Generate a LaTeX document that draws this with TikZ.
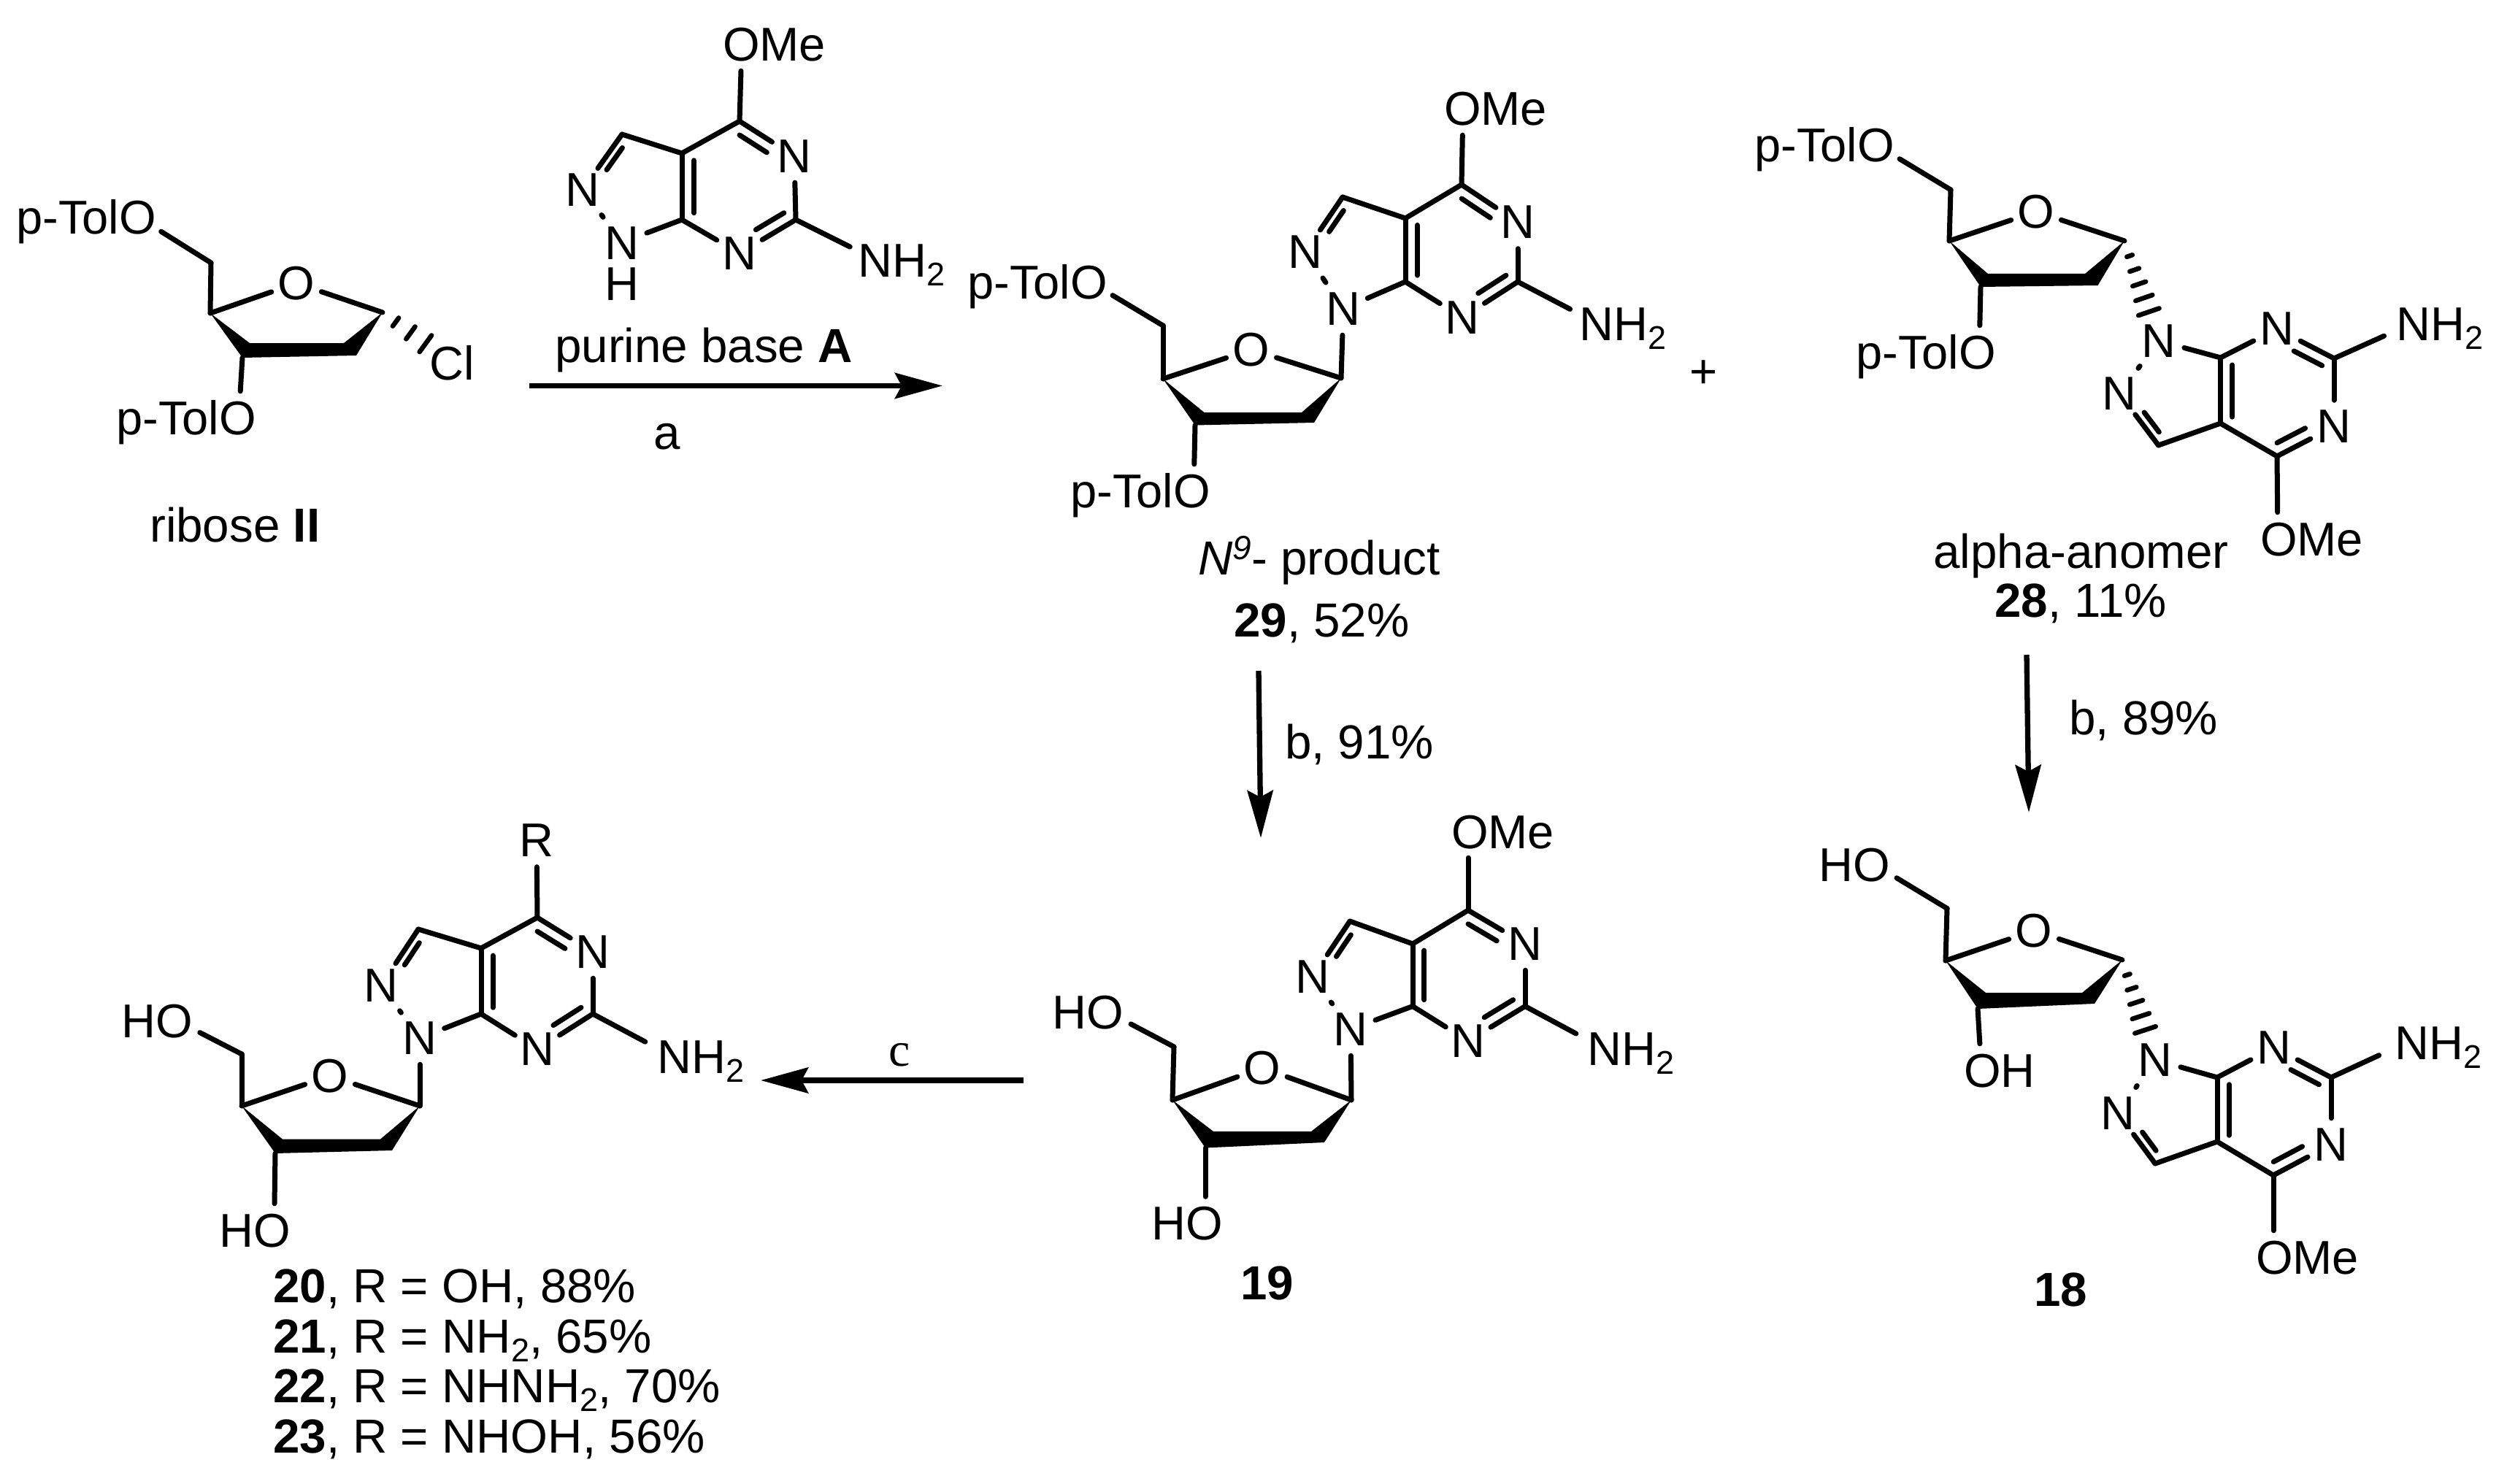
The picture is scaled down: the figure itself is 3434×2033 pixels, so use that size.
\documentclass[tikz,border=0pt]{standalone}
\usepackage{fontspec}
\setmainfont{Liberation Sans}
\newfontfamily\serifc{Liberation Serif}
\usetikzlibrary{calc,arrows.meta}
\newcommand{\subtwo}{\raisebox{-12pt}{\fontsize{45}{47}\selectfont 2}}
\tikzset{
  x=1pt,y=-1pt,
  bnd/.style={line width=7pt,line cap=round,black},
  hsh/.style={line width=6.5pt,line cap=round,black},
  rxn/.style={line width=7.3pt,black,-{Stealth[length=65pt,width=35pt,inset=9pt]}},
  molfont/.style={font=\fontsize{65}{70}\selectfont},
  atomlab/.style={circle,inner sep=0pt,minimum size=72pt,molfont},
  gapn/.style={circle,inner sep=0pt,minimum size=72pt},
  gapw/.style={circle,inner sep=0pt,minimum size=84pt},
  txt/.style={inner sep=0pt,molfont},
  capn/.style={inner sep=0pt,font=\fontsize{65.5}{70}\selectfont},
}
% purine-like bicycle: expects coordinates/nodes  P-C4 P-N3 P-C2 P-N1 P-C7a P-C3a P-CH P-N2 P-N9 P-X4 P-X2
\newcommand{\purinebonds}[1]{
  \coordinate (#1-c6) at ($(#1-C4)!.5!(#1-N1)$);
  \coordinate (#1-m5) at ($(#1-C3a)!.5!(#1-C7a)$);
  \coordinate (#1-c5) at ($(#1-m5)!.59!(#1-N2)$);
  \draw[bnd] (#1-C4) -- (#1-X4);
  \draw[bnd] (#1-C4) -- (#1-N3);
  \draw[bnd] (#1-N3) -- (#1-C2);
  \draw[bnd] (#1-C2) -- (#1-N1);
  \draw[bnd] (#1-C2) -- (#1-X2);
  \draw[bnd] (#1-N1) -- (#1-C7a);
  \draw[bnd] (#1-C7a) -- (#1-C3a);
  \draw[bnd] (#1-C3a) -- (#1-C4);
  \draw[bnd] (#1-C3a) -- (#1-CH);
  \draw[bnd] (#1-CH) -- (#1-N2);
  \draw[bnd,shorten <=7pt,shorten >=7pt] (#1-N2) -- (#1-N9);
  \draw[bnd] (#1-N9) -- (#1-C7a);
  \draw[bnd] ($(#1-C3a)!.21!(#1-c6)$) -- ($(#1-C7a)!.21!(#1-c6)$);
  \draw[bnd,shorten >=26pt] ($(#1-C4)!.21!(#1-c6)$) -- ($(#1-N3)!.21!(#1-c6)$);
  \draw[bnd,shorten >=26pt] ($(#1-C2)!.21!(#1-c6)$) -- ($(#1-N1)!.21!(#1-c6)$);
  \draw[bnd,shorten >=33pt] ($(#1-CH)!.25!(#1-c5)$) -- ($(#1-N2)!.25!(#1-c5)$);
}
% sugar ring: expects P-C5 P-C4p P-O P-C1 P-tl P-tr P-br P-bl P-O5 P-O3
\newcommand{\sugarbonds}[1]{
  \draw[bnd] (#1-O5) -- (#1-C5);
  \draw[bnd] (#1-C5) -- (#1-C4p);
  \draw[bnd] (#1-C4p) -- (#1-O);
  \draw[bnd] (#1-O) -- (#1-C1);
  \fill[black] (#1-C4p) -- (#1-tl) -- (#1-tr) -- (#1-C1) -- (#1-br) -- (#1-bl) -- cycle;
  \draw[bnd] (#1-bl) -- (#1-O3);
}
% hashed bond a->b: fractions t0..t1, n stripes, half widths w0..w1
\newcommand{\hashbond}[7]{
  \foreach \i in {0,...,\numexpr#5-1\relax}{
    \pgfmathsetmacro{\tt}{#3+(#4-#3)*\i/(#5-1)}
    \pgfmathsetmacro{\ww}{#6+(#7-#6)*\i/(#5-1)}
    \coordinate (hashc) at ($(#1)!\tt!(#2)$);
    \draw[hsh] ($(hashc)!\ww pt!90:(#2)$) -- ($(hashc)!\ww pt!-90:(#2)$);
  }
}
\begin{document}
\begin{tikzpicture}
\useasboundingbox (0,0) rectangle (3434,2033);
\fill[white] (0,0) rectangle (3434,2033);

%% ribose II
\coordinate (r-C5) at (289,360);
\coordinate (r-C4p) at (288,429);
\node[atomlab] (r-O) at (406,388) {O};
\coordinate (r-C1) at (524,428);
\coordinate (r-tl) at (342,470);
\coordinate (r-tr) at (471,470);
\coordinate (r-br) at (488,487);
\coordinate (r-bl) at (332,490);
\node[gapn] (r-O5) at (190,298) {};
\node[gapn] (r-O3) at (327,572) {};
\node[txt,anchor=base east] (r-t5) at (214,321) {p-TolO};
\node[txt,anchor=base east] (r-t3) at (351,595) {p-TolO};
\node[txt] (r-Cl) at (619,497) {Cl};
\sugarbonds{r}
\hashbond{r-C1}{r-Cl}{.19}{.62}{3}{7}{14}
\node[capn,anchor=base west] (r-cap) at (205,742) {ribose \textbf{II}};

%% base A
\coordinate (a-C4) at (1013,166);
\node[atomlab] (a-N3) at (1088,214) {N};
\coordinate (a-C2) at (1090,301);
\node[atomlab] (a-N1) at (1013,347) {N};
\coordinate (a-C7a) at (934,301);
\coordinate (a-C3a) at (934,210);
\coordinate (a-CH) at (852,184);
\node[atomlab] (a-N2) at (798,260) {N};
\node[gapn] (a-N9) at (852,332) {};
\node[inner sep=0pt,align=center,anchor=base,font=\fontsize{65}{56}\selectfont] (a-N9t) at (852,411) {N\\H};
\node[gapn] (a-X4) at (1016,61) {};
\node[gapw] (a-X2) at (1202,357) {};
\node[txt,anchor=base west] (a-t4) at (990,84) {OMe};
\node[txt,anchor=base west] (a-t2) at (1175,380) {NH\subtwo};
\purinebonds{a}
\node[capn,anchor=base west] (a-cap) at (760,496) {purine base \textbf{A}};
\node[capn,anchor=base] (a-lab) at (914,615) {a};

%% arrow a
\coordinate (ar1s) at (725,528.5);
\coordinate (ar1e) at (1291,528.5);
\draw[rxn] (ar1s) -- (ar1e);

%% 29
\coordinate (b-C4) at (2002,253);
\node[atomlab] (b-N3) at (2079,304.5) {N};
\coordinate (b-C2) at (2079,386);
\node[atomlab] (b-N1) at (2003,435) {N};
\coordinate (b-C7a) at (1925,386);
\coordinate (b-C3a) at (1925,299);
\coordinate (b-CH) at (1839,270);
\node[atomlab] (b-N2) at (1788,345) {N};
\node[atomlab] (b-N9) at (1840,423) {N};
\node[gapn] (b-X4) at (2004,149) {};
\node[gapw] (b-X2) at (2188,443) {};
\node[txt,anchor=base west] (b-t4) at (1978,172) {OMe};
\node[txt,anchor=base west] (b-t2) at (2163,466) {NH\subtwo};
\purinebonds{b}
\coordinate (b-C5) at (1593,446);
\coordinate (b-C4p) at (1593,519);
\node[atomlab] (b-O) at (1714,479) {O};
\coordinate (b-C1) at (1837,518);
\coordinate (b-tl) at (1649.5,565);
\coordinate (b-tr) at (1783,565);
\coordinate (b-br) at (1800,579);
\coordinate (b-bl) at (1637,582.5);
\node[gapn] (b-O5) at (1493,386) {};
\node[gapn] (b-O3) at (1635,672) {};
\node[txt,anchor=base east] (b-t5) at (1517,409) {p-TolO};
\node[txt,anchor=base east] (b-t3) at (1658,695) {p-TolO};
\sugarbonds{b}
\draw[bnd] (b-C1) -- (b-N9);
\node[capn,anchor=base west] (b-cap) at (1641,787) {\textit{N}\raisebox{21pt}{\fontsize{46}{48}\selectfont\textit{9}}- product};
\node[capn,anchor=base west] (b-cap2) at (1690,872) {\textbf{29}, 52\%};
\node[capn] (plus) at (2334,513) {+};

%% 28
\coordinate (c-C4) at (3119,625);
\node[atomlab] (c-N3) at (3197,584.5) {N};
\coordinate (c-C2) at (3197,491);
\node[atomlab] (c-N1) at (3119,450.6) {N};
\coordinate (c-C7a) at (3041.5,490);
\coordinate (c-C3a) at (3041.5,580);
\coordinate (c-CH) at (2956.5,610);
\node[atomlab] (c-N2) at (2903,539) {N};
\node[atomlab] (c-N9) at (2957,467) {N};
\node[gapn] (c-X4) at (3120,738) {};
\node[gapw] (c-X2) at (3304,443) {};
\node[txt,anchor=base west] (c-t4) at (3096,761) {OMe};
\node[txt,anchor=base west] (c-t2) at (3282,466) {NH\subtwo};
\purinebonds{c}
\coordinate (c-C5) at (2672,260);
\coordinate (c-C4p) at (2670,330);
\node[atomlab] (c-O) at (2789,290) {O};
\coordinate (c-C1) at (2910,330);
\coordinate (c-tl) at (2723,375);
\coordinate (c-tr) at (2856,375);
\coordinate (c-br) at (2873.5,391);
\coordinate (c-bl) at (2713,393);
\node[gapn] (c-O5) at (2571,199) {};
\node[gapn] (c-O3) at (2711,482) {};
\node[txt,anchor=base east] (c-t5) at (2595,222) {p-TolO};
\node[txt,anchor=base east] (c-t3) at (2734,505) {p-TolO};
\sugarbonds{c}
\hashbond{c-C1}{c-N9}{.15}{.71}{5}{4}{15}
\node[capn,anchor=base west] (c-cap) at (2648,778) {alpha-anomer};
\node[capn,anchor=base west] (c-cap2) at (2732,845) {\textbf{28}, 11\%};

%% arrow b (left)
\coordinate (ar2s) at (1724,919);
\coordinate (ar2e) at (1727,1148);
\draw[rxn] (ar2s) -- (ar2e);
\node[capn,anchor=base west] (ar2l) at (1760,1039) {b, 91\%};

%% arrow b (right)
\coordinate (ar3s) at (2776,897);
\coordinate (ar3e) at (2779,1113);
\draw[rxn] (ar3s) -- (ar3e);
\node[capn,anchor=base west] (ar3l) at (2834,1006) {b, 89\%};

%% 19
\coordinate (d-C4) at (2011,1247);
\node[atomlab] (d-N3) at (2089,1293) {N};
\coordinate (d-C2) at (2089,1378.5);
\node[atomlab] (d-N1) at (2011,1426) {N};
\coordinate (d-C7a) at (1935,1378.5);
\coordinate (d-C3a) at (1935,1293);
\coordinate (d-CH) at (1849,1262);
\node[atomlab] (d-N2) at (1798,1338) {N};
\node[atomlab] (d-N9) at (1850,1410) {N};
\node[gapn] (d-X4) at (2011,1139) {};
\node[gapw] (d-X2) at (2196,1436) {};
\node[txt,anchor=base west] (d-t4) at (1988,1162) {OMe};
\node[txt,anchor=base west] (d-t2) at (2174,1459) {NH\subtwo};
\purinebonds{d}
\coordinate (d-C5) at (1608,1434);
\coordinate (d-C4p) at (1606,1507);
\node[atomlab] (d-O) at (1729,1463) {O};
\coordinate (d-C1) at (1851,1507);
\coordinate (d-tl) at (1662,1550);
\coordinate (d-tr) at (1796,1550);
\coordinate (d-br) at (1814,1565);
\coordinate (d-bl) at (1651,1572.5);
\node[gapn] (d-O5) at (1517,1386) {};
\node[gapn] (d-O3) at (1651,1675.5) {};
\node[txt,anchor=base east] (d-t5) at (1539,1409) {HO};
\node[txt,anchor=base east] (d-t3) at (1675,1698) {HO};
\sugarbonds{d}
\draw[bnd] (d-C1) -- (d-N9);
\node[capn,anchor=base west] (d-cap) at (1699,1780.5) {\textbf{19}};

%% arrow c
\coordinate (ar4s) at (1402,1480);
\coordinate (ar4e) at (1042,1480);
\draw[rxn] (ar4s) -- (ar4e);
\node[inner sep=0pt,anchor=base west,font=\fontsize{66}{70}\selectfont\serifc] (ar4l) at (1217,1460) {c};

%% 20-23
\coordinate (e-C4) at (736,1257);
\node[atomlab] (e-N3) at (812,1304) {N};
\coordinate (e-C2) at (812,1389);
\node[atomlab] (e-N1) at (736,1437.5) {N};
\coordinate (e-C7a) at (659,1389);
\coordinate (e-C3a) at (659,1299);
\coordinate (e-CH) at (573,1273);
\node[atomlab] (e-N2) at (522,1350) {N};
\node[atomlab] (e-N9) at (575,1422) {N};
\node[atomlab] (e-X4) at (735,1151.5) {R};
\node[gapw] (e-X2) at (921,1447) {};
\node[txt,anchor=base west] (e-t2) at (900,1470) {NH\subtwo};
\purinebonds{e}
\coordinate (e-C5) at (331,1444);
\coordinate (e-C4p) at (331,1515);
\node[atomlab] (e-O) at (452,1474) {O};
\coordinate (e-C1) at (575,1515);
\coordinate (e-tl) at (387,1560.6);
\coordinate (e-tr) at (521,1560.6);
\coordinate (e-br) at (537,1576);
\coordinate (e-bl) at (377,1580);
\node[gapn] (e-O5) at (241.6,1398) {};
\node[gapn] (e-O3) at (375.5,1685) {};
\node[txt,anchor=base east] (e-t5) at (264.5,1421) {HO};
\node[txt,anchor=base east] (e-t3) at (398,1708) {HO};
\sugarbonds{e}
\draw[bnd] (e-C1) -- (e-N9);
\node[capn,anchor=base west] (e-l1) at (374,1784) {\textbf{20}, R = OH, 88\%};
\node[capn,anchor=base west] (e-l2) at (374,1853) {\textbf{21}, R = NH\subtwo, 65\%};
\node[capn,anchor=base west] (e-l3) at (374,1921) {\textbf{22}, R = NHNH\subtwo, 70\%};
\node[capn,anchor=base west] (e-l4) at (374,1990) {\textbf{23}, R = NHOH, 56\%};

%% 18
\coordinate (f-C4) at (3114,1610);
\node[atomlab] (f-N3) at (3193,1568) {N};
\coordinate (f-C2) at (3193,1476);
\node[atomlab] (f-N1) at (3115,1435) {N};
\coordinate (f-C7a) at (3037,1476);
\coordinate (f-C3a) at (3037,1564);
\coordinate (f-CH) at (2952,1594);
\node[atomlab] (f-N2) at (2901,1525) {N};
\node[atomlab] (f-N9) at (2952,1452) {N};
\node[gapn] (f-X4) at (3114,1722) {};
\node[gapw] (f-X2) at (3297,1428) {};
\node[txt,anchor=base west] (f-t4) at (3090,1745) {OMe};
\node[txt,anchor=base west] (f-t2) at (3280,1451) {NH\subtwo};
\purinebonds{f}
\coordinate (f-C5) at (2667,1244.5);
\coordinate (f-C4p) at (2665,1316);
\node[atomlab] (f-O) at (2786,1275) {O};
\coordinate (f-C1) at (2907,1315);
\coordinate (f-tl) at (2720,1360);
\coordinate (f-tr) at (2852,1360);
\coordinate (f-br) at (2869,1375);
\coordinate (f-bl) at (2709,1382);
\node[gapn] (f-O5) at (2567,1184) {};
\node[gapn] (f-O3) at (2714,1466) {};
\node[txt,anchor=base east] (f-t5) at (2589,1207) {HO};
\node[txt,anchor=base west] (f-t3) at (2690,1489) {OH};
\sugarbonds{f}
\hashbond{f-C1}{f-N9}{.15}{.70}{5}{4}{15}
\node[capn,anchor=base west] (f-cap) at (2786,1789) {\textbf{18}};
\end{tikzpicture}
\end{document}
